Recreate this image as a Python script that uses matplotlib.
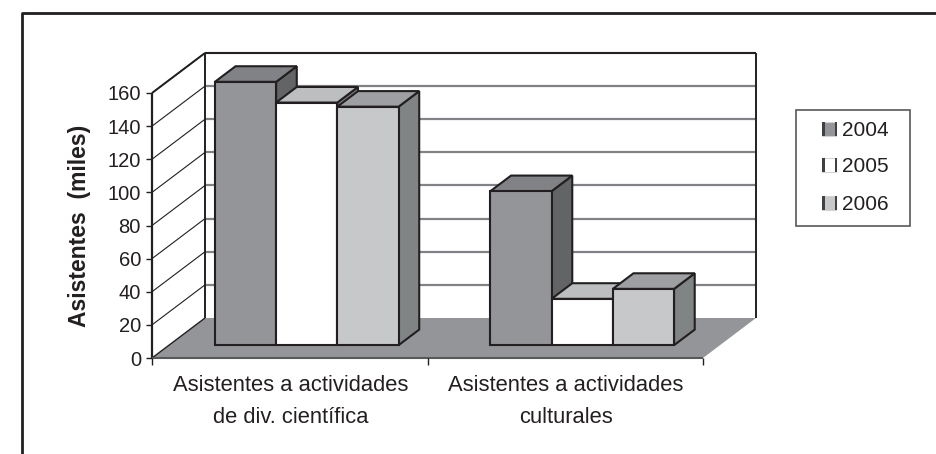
import matplotlib
matplotlib.use("Agg")
import matplotlib.pyplot as plt
from matplotlib.patches import Polygon, Rectangle

plt.rcParams['font.family'] = ['Liberation Sans', 'DejaVu Sans']

categories = ["Asistentes a actividades\nde div. científica", "Asistentes a actividades\nculturales"]
years = ["2004", "2005", "2006"]
v2004 = [159, 93]
v2005 = [146.5, 28]
v2006 = [144, 34]
series = [v2004, v2005, v2006]
y_ticks = [0, 20, 40, 60, 80, 100, 120, 140, 160]

# front, top, side colours of each series
colors = [("#939598", "#808285", "#636466"),
          ("#ffffff", "#bcbec0", "#808285"),
          ("#c7c8ca", "#9d9fa2", "#808485")]
dark = "#231f20"

W, H = 936, 454
fig = plt.figure(figsize=(W / 100, H / 100), dpi=100)
fig.patch.set_facecolor("white")

# axes = front plane of the fake 3d box
ax = fig.add_axes([152 / W, 1 - 358 / H, 551 / W, 265 / H])
ax.set_xlim(0, 2)
ax.set_ylim(0, 160)
ax.patch.set_visible(False)
for s in ax.spines.values():
    s.set_visible(False)

# depth of the box in data units
DX = 53 / 275.5
DY = 40 / 1.656


def proj(x, y, d):
    return (x + d * DX, y + d * DY)


def poly(points, fc, ec=dark, lw=1.5, z=2):
    ax.add_patch(Polygon(points, closed=True, facecolor=fc, edgecolor=ec,
                         linewidth=lw, clip_on=False, zorder=z, joinstyle="miter"))


def line(points, color, lw, z=1):
    xs = [p[0] for p in points]
    ys = [p[1] for p in points]
    ax.plot(xs, ys, color=color, lw=lw, clip_on=False, zorder=z, solid_capstyle="butt")


# floor
poly([proj(0, 0, 0), proj(2, 0, 0), proj(2, 0, 1), proj(0, 0, 1)], "#939598", ec="none", z=1)
line([proj(0, 0, 0), proj(2, 0, 0)], "#58595b", 1.5, z=1.5)

# walls
for t in y_ticks[1:]:
    line([proj(0, t, 1), proj(2, t, 1)], "#808285", 1.6)
    line([proj(0, t, 0), proj(0, t, 1)], dark, 0.8)
line([proj(0, 160, 1), proj(2, 160, 1)], dark, 1.4)
line([proj(0, 0, 1), proj(0, 160, 1)], dark, 1.4)
line([proj(2, 0, 1), proj(2, 160, 1)], dark, 1.4)
line([proj(0, 160, 0), proj(0, 160, 1)], dark, 1.4)
line([proj(0, 0, 0), proj(0, 160, 0)], dark, 1.6)
line([proj(0, 0, 0), proj(0, 0, 1)], dark, 1.0)

# bars, later series on top of the earlier ones
gap = 0.75
bar_w = 1 / (len(series) + 2 * gap)
d0, d1 = 0.32, 0.71
for g in range(len(categories)):
    for i in range(len(series)):
        v = series[i][g]
        x0 = g + gap * bar_w + i * bar_w
        x1 = x0 + bar_w
        z = 3 + i * 0.1
        front, top, side = colors[i]
        poly([proj(x1, 0, d0), proj(x1, 0, d1), proj(x1, v, d1), proj(x1, v, d0)], side, z=z)
        poly([proj(x0, v, d0), proj(x1, v, d0), proj(x1, v, d1), proj(x0, v, d1)], top, z=z)
        poly([proj(x0, 0, d0), proj(x1, 0, d0), proj(x1, v, d0), proj(x0, v, d0)], front, z=z + 0.05)

ax.set_xticks([0, 1, 2])
ax.set_xticklabels([])
ax.set_yticks(y_ticks)
ax.tick_params(axis="both", length=5, width=1.0, color=dark, labelcolor=dark, labelsize=14.5, pad=4)
ax.tick_params(axis="y", length=4)
for k in range(len(categories)):
    ax.text(k + 0.503, -10.5, categories[k], ha="center", va="top", fontsize=15.8,
            color=dark, linespacing=1.66)
ax.set_ylabel("Asistentes  (miles)", fontsize=16.5, fontweight="bold", color=dark, labelpad=12)

# legend box, built by hand since the swatches are little 3d blocks
fig.add_artist(Rectangle((796 / W, 1 - 226 / H), 114 / W, 116 / H, transform=fig.transFigure,
                         facecolor="white", edgecolor="#58595b", linewidth=1.2))
for i in range(len(years)):
    yc = 1 - [129, 165, 203][i] / H
    fig.add_artist(Rectangle((822 / W, yc - 7 / H), 14 / W, 14 / H, transform=fig.transFigure,
                             facecolor=colors[i][0], edgecolor="#d1d3d4", linewidth=0.8))
    fig.add_artist(Rectangle((822 / W, yc - 7 / H), 3 / W, 14 / H, transform=fig.transFigure,
                             facecolor="#414042", edgecolor="none"))
    fig.add_artist(Rectangle((835 / W, yc - 7 / H), 1.5 / W, 14 / H, transform=fig.transFigure,
                             facecolor="#414042", edgecolor="none"))
    fig.text(842 / W, yc - 1 / H, years[i], fontsize=15, color=dark, va="center", ha="left")

# outer frame: only left and top were printed
fig.add_artist(plt.Line2D([21.5 / W, 21.5 / W, 936 / W], [0, 1 - 13 / H, 1 - 13 / H],
                          color=dark, lw=2))

fig.savefig("out.png", dpi=100)
